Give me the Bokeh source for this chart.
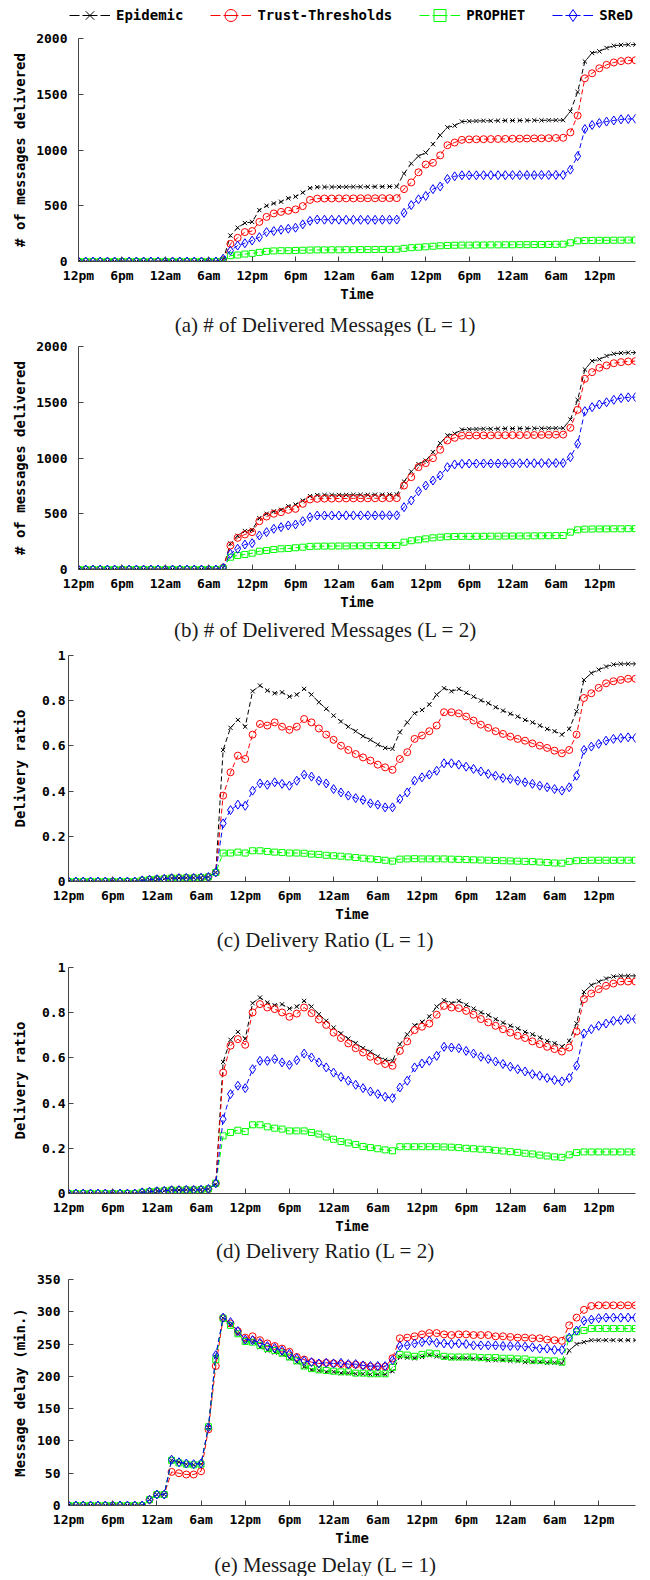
from bokeh.plotting import figure
from bokeh.models import Range1d, FixedTicker, Legend, LegendItem, Label, ColumnDataSource
from bokeh.embed import file_html
from bokeh.resources import INLINE

# ---------------- data ----------------
hours = list(range(0, 78))
tick_hours = [0, 6, 12, 18, 24, 30, 36, 42, 48, 54, 60, 66, 72]
tick_labels = ["12pm", "6pm", "12am", "6am", "12pm", "6pm", "12am", "6am",
               "12pm", "6pm", "12am", "6am", "12pm"]
series_names = ["Epidemic", "Trust-Thresholds", "PROPHET", "SReD"]

# (a)/(b) number of delivered messages
epidemic_count = [0, 0, 0, 0, 0, 0, 0, 0, 0, 0, 0, 0, 0, 0, 0, 0, 0, 0, 0, 0,
                  15,
                  233, 303, 345, 355, 461, 500, 521, 536, 567, 582, 618, 658, 667,
                  668, 668, 669, 669, 670, 670, 670, 671, 671, 672, 672,
                  788, 879, 945, 976, 1052, 1133, 1203, 1218, 1255,
                  1258, 1260, 1262, 1262, 1263, 1264, 1264, 1265, 1265, 1266, 1266, 1267, 1267, 1268,
                  1345, 1521, 1794, 1870, 1885, 1915, 1935, 1942, 1945, 1945]
trust_count_L1 = [0, 0, 0, 0, 0, 0, 0, 0, 0, 0, 0, 0, 0, 0, 0, 0, 0, 0, 0, 0,
                  12,
                  158, 212, 264, 273, 355, 400, 431, 445, 455, 467, 497, 552, 564,
                  565, 565, 566, 566, 566, 567, 567, 567, 568, 568, 568,
                  649, 709, 800, 870, 885, 952, 1043, 1067, 1091,
                  1095, 1096, 1097, 1098, 1099, 1100, 1101, 1102, 1103, 1104, 1105, 1106, 1108, 1110,
                  1158, 1309, 1643, 1688, 1733, 1764, 1785, 1797, 1803, 1805]
prophet_count_L1 = [0, 0, 0, 0, 0, 0, 0, 0, 0, 0, 0, 0, 0, 0, 0, 0, 0, 0, 0, 0,
                    8,
                    52, 58, 67, 73, 82, 91, 95, 97, 97, 99, 101, 103, 104,
                    104, 105, 105, 106, 106, 107, 107, 108, 108, 109, 110,
                    118, 124, 128, 132, 137, 141, 144, 146, 147,
                    147, 148, 148, 149, 149, 150, 150, 151, 151, 152, 152, 153, 154, 155,
                    168, 185, 188, 189, 190, 190, 191, 191, 192, 192]
sred_count_L1 = [0, 0, 0, 0, 0, 0, 0, 0, 0, 0, 0, 0, 0, 0, 0, 0, 0, 0, 0, 0,
                 25,
                 97, 143, 164, 188, 218, 264, 273, 285, 294, 303, 333, 364, 376,
                 375, 375, 375, 374, 374, 374, 374, 374, 375, 375, 376,
                 436, 506, 558, 588, 649, 673, 740, 764, 773,
                 773, 773, 774, 774, 774, 774, 775, 775, 775, 775, 776, 776, 776, 776,
                 824, 945, 1188, 1224, 1242, 1255, 1265, 1275, 1278, 1280]
trust_count_L2 = [0, 0, 0, 0, 0, 0, 0, 0, 0, 0, 0, 0, 0, 0, 0, 0, 0, 0, 0, 0,
                  15,
                  215, 284, 314, 335, 433, 475, 500, 514, 535, 544, 589, 628, 634,
                  636, 636, 637, 637, 638, 638, 638, 639, 639, 640, 640,
                  753, 828, 918, 954, 998, 1074, 1157, 1181, 1200,
                  1202, 1202, 1203, 1203, 1204, 1204, 1205, 1205, 1206, 1206, 1207, 1208, 1209, 1210,
                  1271, 1432, 1710, 1770, 1809, 1830, 1850, 1860, 1866, 1869]
prophet_count_L2 = [0, 0, 0, 0, 0, 0, 0, 0, 0, 0, 0, 0, 0, 0, 0, 0, 0, 0, 0, 0,
                    10,
                    110, 126, 135, 146, 164, 170, 179, 186, 188, 195, 200, 207, 209,
                    210, 210, 211, 211, 212, 212, 213, 214, 214, 215, 216,
                    245, 258, 266, 275, 284, 290, 294, 296, 297,
                    297, 298, 298, 299, 299, 300, 300, 301, 301, 302, 302, 303, 304, 305,
                    335, 356, 362, 363, 364, 364, 365, 365, 366, 366]
sred_count_L2 = [0, 0, 0, 0, 0, 0, 0, 0, 0, 0, 0, 0, 0, 0, 0, 0, 0, 0, 0, 0,
                 15,
                 141, 186, 224, 236, 305, 335, 365, 380, 395, 404, 433, 469, 484,
                 484, 484, 484, 485, 485, 485, 485, 485, 486, 486, 486,
                 559, 619, 702, 753, 798, 843, 918, 942, 948,
                 950, 950, 951, 951, 951, 952, 952, 953, 953, 953, 954, 954, 955, 955,
                 1007, 1127, 1420, 1456, 1480, 1500, 1522, 1537, 1544, 1546]

# (c)/(d) delivery ratio
epidemic_ratio = [0, 0, 0, 0, 0, 0, 0, 0, 0, 0,
                  0.005, 0.008, 0.010, 0.012, 0.015, 0.015, 0.016, 0.016, 0.017, 0.020, 0.040,
                  0.582, 0.680, 0.715, 0.685, 0.842, 0.867, 0.845, 0.833, 0.837, 0.818, 0.827, 0.852,
                  0.827, 0.793, 0.764, 0.734, 0.708, 0.685, 0.665, 0.643, 0.627, 0.606, 0.591, 0.587,
                  0.660, 0.704, 0.744, 0.759, 0.783, 0.827, 0.855, 0.842, 0.852, 0.835, 0.818, 0.801,
                  0.789, 0.771, 0.756, 0.742, 0.730, 0.715, 0.704, 0.690, 0.675, 0.665, 0.650,
                  0.675, 0.753, 0.892, 0.922, 0.937, 0.951, 0.960, 0.963, 0.963, 0.963]
trust_ratio_L1 = [0, 0, 0, 0, 0, 0, 0, 0, 0, 0,
                  0.005, 0.008, 0.010, 0.012, 0.015, 0.015, 0.016, 0.016, 0.017, 0.020, 0.040,
                  0.380, 0.483, 0.557, 0.542, 0.650, 0.697, 0.690, 0.704, 0.685, 0.671, 0.685, 0.719,
                  0.704, 0.677, 0.650, 0.627, 0.601, 0.582, 0.564, 0.549, 0.535, 0.517, 0.505, 0.494,
                  0.542, 0.572, 0.631, 0.646, 0.665, 0.690, 0.749, 0.749, 0.744, 0.730, 0.712, 0.694,
                  0.680, 0.665, 0.653, 0.641, 0.631, 0.623, 0.611, 0.601, 0.591, 0.579, 0.567,
                  0.582, 0.650, 0.812, 0.833, 0.857, 0.877, 0.886, 0.892, 0.897, 0.897]
prophet_ratio_L1 = [0, 0, 0, 0, 0, 0, 0, 0, 0, 0,
                    0.005, 0.008, 0.010, 0.012, 0.015, 0.015, 0.016, 0.016, 0.017, 0.020, 0.040,
                    0.126, 0.126, 0.130, 0.126, 0.136, 0.136, 0.133, 0.130, 0.128, 0.126, 0.126, 0.125,
                    0.121, 0.120, 0.116, 0.114, 0.112, 0.109, 0.106, 0.103, 0.100, 0.097, 0.094, 0.090,
                    0.099, 0.100, 0.101, 0.100, 0.100, 0.100, 0.100, 0.099, 0.098, 0.097, 0.096, 0.095,
                    0.094, 0.093, 0.092, 0.091, 0.090, 0.089, 0.088, 0.086, 0.084, 0.082, 0.081,
                    0.089, 0.092, 0.093, 0.094, 0.094, 0.094, 0.094, 0.094, 0.094, 0.094]
sred_ratio_L1 = [0, 0, 0, 0, 0, 0, 0, 0, 0, 0,
                 0.005, 0.008, 0.010, 0.012, 0.015, 0.015, 0.016, 0.016, 0.017, 0.020, 0.040,
                 0.257, 0.316, 0.340, 0.335, 0.402, 0.434, 0.428, 0.439, 0.432, 0.424, 0.446, 0.473,
                 0.464, 0.446, 0.434, 0.409, 0.394, 0.380, 0.369, 0.361, 0.346, 0.340, 0.328, 0.328,
                 0.365, 0.394, 0.446, 0.461, 0.473, 0.490, 0.523, 0.523, 0.517, 0.508, 0.498, 0.487,
                 0.476, 0.468, 0.458, 0.454, 0.446, 0.439, 0.432, 0.424, 0.417, 0.409, 0.402,
                 0.417, 0.468, 0.582, 0.597, 0.609, 0.623, 0.631, 0.635, 0.638, 0.635]
trust_ratio_L2 = [0, 0, 0, 0, 0, 0, 0, 0, 0, 0,
                  0.005, 0.008, 0.010, 0.012, 0.015, 0.015, 0.016, 0.016, 0.017, 0.020, 0.045,
                  0.535, 0.654, 0.683, 0.658, 0.801, 0.838, 0.823, 0.816, 0.801, 0.782, 0.796, 0.823,
                  0.798, 0.770, 0.746, 0.712, 0.688, 0.664, 0.643, 0.624, 0.605, 0.587, 0.573, 0.565,
                  0.631, 0.673, 0.723, 0.738, 0.752, 0.791, 0.830, 0.823, 0.820, 0.808, 0.791, 0.772,
                  0.757, 0.742, 0.727, 0.712, 0.698, 0.688, 0.673, 0.661, 0.649, 0.639, 0.628,
                  0.646, 0.717, 0.860, 0.885, 0.904, 0.919, 0.929, 0.938, 0.938, 0.938]
prophet_ratio_L2 = [0, 0, 0, 0, 0, 0, 0, 0, 0, 0,
                    0.005, 0.008, 0.010, 0.012, 0.015, 0.015, 0.016, 0.016, 0.017, 0.020, 0.045,
                    0.255, 0.270, 0.280, 0.274, 0.304, 0.304, 0.295, 0.289, 0.285, 0.277, 0.277, 0.277,
                    0.270, 0.263, 0.250, 0.240, 0.230, 0.224, 0.217, 0.208, 0.203, 0.198, 0.193, 0.189,
                    0.207, 0.207, 0.207, 0.207, 0.207, 0.207, 0.206, 0.205, 0.203, 0.200, 0.198, 0.196,
                    0.194, 0.191, 0.188, 0.185, 0.182, 0.178, 0.175, 0.170, 0.166, 0.162, 0.160,
                    0.171, 0.181, 0.184, 0.184, 0.184, 0.184, 0.184, 0.184, 0.184, 0.184]
sred_ratio_L2 = [0, 0, 0, 0, 0, 0, 0, 0, 0, 0,
                 0.005, 0.008, 0.010, 0.012, 0.015, 0.015, 0.016, 0.016, 0.017, 0.020, 0.045,
                 0.329, 0.440, 0.477, 0.466, 0.550, 0.587, 0.587, 0.595, 0.580, 0.569, 0.590, 0.619,
                 0.602, 0.580, 0.558, 0.535, 0.516, 0.499, 0.481, 0.466, 0.451, 0.440, 0.428, 0.422,
                 0.469, 0.499, 0.558, 0.575, 0.587, 0.609, 0.649, 0.646, 0.643, 0.631, 0.619, 0.605,
                 0.595, 0.584, 0.573, 0.561, 0.550, 0.540, 0.528, 0.521, 0.511, 0.502, 0.496,
                 0.511, 0.565, 0.708, 0.727, 0.742, 0.752, 0.764, 0.767, 0.772, 0.772]

# (e) message delay (minutes)
epidemic_delay = [0, 0, 0, 0, 0, 0, 0, 0, 0, 0, 0, 9, 17, 17,
                  70, 67, 64, 63, 64, 121, 230, 290, 280, 266, 254, 253, 245, 240, 237, 234,
                  228, 222, 215, 210, 209, 207, 207, 205, 205, 204, 204, 203, 203, 203, 208,
                  230, 229, 228, 230, 233, 231, 229, 228, 228, 228, 227, 227, 225, 225, 225,
                  224, 224, 222, 222, 222, 221, 221, 220,
                  240, 250, 253, 256, 256, 256, 256, 256, 256, 256]
trust_delay = [0, 0, 0, 0, 0, 0, 0, 0, 0, 0, 0, 9, 17, 17,
               52, 50, 48, 48, 53, 118, 216, 290, 282, 270, 260, 262, 256, 251, 247, 243,
               238, 230, 226, 222, 220, 221, 220, 219, 218, 218, 217, 215, 215, 215, 228,
               259, 260, 262, 265, 267, 267, 265, 264, 265, 265, 264, 264, 264, 262, 262,
               261, 260, 260, 259, 259, 257, 256, 255,
               279, 291, 303, 309, 310, 310, 310, 310, 310, 310]
prophet_delay = [0, 0, 0, 0, 0, 0, 0, 0, 0, 0, 0, 9, 17, 17,
                 70, 66, 64, 63, 64, 122, 226, 290, 279, 266, 254, 253, 248, 243, 240, 236,
                 230, 224, 216, 212, 210, 209, 208, 207, 207, 205, 205, 204, 204, 204, 214,
                 234, 233, 231, 234, 236, 235, 231, 230, 230, 230, 230, 229, 229, 229, 228,
                 228, 227, 227, 225, 225, 224, 224, 222,
                 259, 269, 271, 274, 274, 274, 274, 274, 274, 274]
sred_delay = [0, 0, 0, 0, 0, 0, 0, 0, 0, 0, 0, 9, 17, 17,
              71, 67, 65, 64, 65, 121, 233, 291, 284, 270, 257, 256, 252, 247, 244, 240,
              235, 228, 224, 222, 220, 221, 220, 221, 219, 219, 217, 216, 216, 216, 225,
              247, 248, 251, 253, 255, 252, 251, 250, 251, 250, 248, 248, 248, 248, 247,
              247, 247, 246, 245, 243, 243, 241, 241,
              260, 271, 286, 288, 290, 291, 291, 291, 291, 291]

count_ticks = [0, 500, 1000, 1500, 2000]
ratio_ticks = [0, 0.2, 0.4, 0.6, 0.8, 1.0]
ratio_tick_labels = ["0", "0.2", "0.4", "0.6", "0.8", "1"]
delay_ticks = [0, 50, 100, 150, 200, 250, 300, 350]

captions = ["(a) # of Delivered Messages (L = 1)",
            "(b) # of Delivered Messages (L = 2)",
            "(c) Delivery Ratio (L = 1)",
            "(d) Delivery Ratio (L = 2)",
            "(e) Message Delay (L = 1)"]

# ---------------- style ----------------
COLORS = ["#000000", "#ff0000", "#00ff00", "#0000ff"]
MARKERS = ["x", "circle", "square", "diamond"]
MSIZES = [6, 7, 6, 9]
MONO = "DejaVu Sans Mono"
AXIS_COLOR = "#444444"
PAGE_W = 650


def blank_fig(h):
    f = figure(width=PAGE_W, height=h, x_range=Range1d(0, 1), y_range=Range1d(0, 1),
               output_backend="svg", toolbar_location=None, title_location=None,
               x_axis_location=None, y_axis_location=None, min_border=0,
               min_border_left=0, min_border_right=0, min_border_top=0, min_border_bottom=0,
               background_fill_color="white", border_fill_color="white")
    f.outline_line_color = None
    f.grid.visible = False
    return f


def caption_fig(text, h, cy):
    f = blank_fig(h)
    f.add_layout(Label(x=PAGE_W / 2, y=h - cy, x_units="screen", y_units="screen",
                       text=text, text_align="center", text_baseline="middle",
                       text_font="Liberation Serif", text_font_size="21px",
                       text_color="#1a1a1a"))
    return f


def legend_fig(h):
    f = blank_fig(h)
    items = []
    # one-point proxy renderers (outside the visible range) that only feed the legend
    proxy = ColumnDataSource(dict(h=[hours[-1]], v=[epidemic_count[-1]]))
    for name, c, m in zip(series_names, COLORS, MARKERS):
        lr = f.line("h", "v", source=proxy, line_color=c, line_width=1,
                    line_dash="10 3 15 3")
        sr = f.scatter("h", "v", source=proxy, marker=m, line_color=c,
                       fill_color=None, line_width=1)
        items.append(LegendItem(label=name, renderers=[lr, sr]))
    legend = Legend(items=items, orientation="horizontal", location=(69, 0),
                    glyph_width=41, glyph_height=h, label_height=h,
                    label_standoff=6, spacing=27, padding=0, margin=0,
                    label_text_font=MONO, label_text_font_style="bold",
                    label_text_font_size="14px", label_text_color="#000000",
                    background_fill_alpha=0, border_line_alpha=0)
    f.add_layout(legend)
    return f


def make_panel(data, ymax, yticks, ytick_labels, ylabel,
               left, top, bottom, fw, fh, ystand, ylab_stand):
    p = figure(frame_width=fw, frame_height=fh,
               x_range=Range1d(0, 77), y_range=Range1d(0, ymax),
               output_backend="svg", toolbar_location=None, title_location=None,
               min_border_left=left, min_border_right=PAGE_W - left - fw,
               min_border_top=top, min_border_bottom=bottom,
               background_fill_color="white", border_fill_color="white")
    p.outline_line_color = None
    p.xgrid.visible = False
    p.ygrid.visible = False

    for vals, c, m, s in zip(data, COLORS, MARKERS, MSIZES):
        src = ColumnDataSource(dict(h=hours, v=vals))
        p.line("h", "v", source=src, line_color=c, line_width=1, line_dash="5 3")
        p.scatter("h", "v", source=src, marker=m, size=s, line_color=c,
                  fill_color=None, line_width=1)

    xa = p.xaxis[0]
    xa.ticker = FixedTicker(ticks=tick_hours)
    xa.major_label_overrides = {h: t for h, t in zip(tick_hours, tick_labels)}
    xa.axis_label = "Time"
    xa.major_label_standoff = 6
    xa.axis_label_standoff = 0

    ya = p.yaxis[0]
    ya.ticker = FixedTicker(ticks=yticks)
    ya.major_label_overrides = {v: t for v, t in zip(yticks, ytick_labels)}
    ya.axis_label = ylabel
    ya.major_label_standoff = ystand
    ya.axis_label_standoff = ylab_stand

    for ax in (xa, ya):
        ax.major_tick_in = 5
        ax.major_tick_out = 0
        ax.minor_tick_line_color = None
        ax.axis_line_color = AXIS_COLOR
        ax.major_tick_line_color = AXIS_COLOR
        ax.major_label_text_font = MONO
        ax.major_label_text_font_style = "bold"
        ax.major_label_text_font_size = "13px"
        ax.major_label_text_color = "#000000"
        ax.axis_label_text_font = MONO
        ax.axis_label_text_font_style = "bold"
        ax.axis_label_text_font_size = "14px"
        ax.axis_label_text_color = "#000000"
    return p


leg = legend_fig(30)
pa = make_panel([epidemic_count, trust_count_L1, prophet_count_L1, sred_count_L1],
                2000, count_ticks, [str(v) for v in count_ticks],
                "# of messages delivered", 78, 8, 40, 557, 223, 11, 5)
ca = caption_fig(captions[0], 32, 20)
pb = make_panel([epidemic_count, trust_count_L2, prophet_count_L2, sred_count_L2],
                2000, count_ticks, [str(v) for v in count_ticks],
                "# of messages delivered", 78, 10, 40, 557, 223, 11, 5)
cb = caption_fig(captions[1], 32, 17)
pc = make_panel([epidemic_ratio, trust_ratio_L1, prophet_ratio_L1, sred_ratio_L1],
                1, ratio_ticks, ratio_tick_labels,
                "Delivery ratio", 68, 11, 40, 567, 226, 3, 11)
cc = caption_fig(captions[2], 30, 15)
pd_ = make_panel([epidemic_ratio, trust_ratio_L2, prophet_ratio_L2, sred_ratio_L2],
                 1, ratio_ticks, ratio_tick_labels,
                 "Delivery ratio", 68, 13, 40, 567, 226, 3, 11)
cd = caption_fig(captions[3], 30, 14)
pe = make_panel([epidemic_delay, trust_delay, prophet_delay, sred_delay],
                350, delay_ticks, [str(v) for v in delay_ticks],
                "Message delay (min.)", 68, 13, 40, 567, 226, 8, 6)
ce = caption_fig(captions[4], 28, 16)

roots = [leg, pa, ca, pb, cb, pc, cc, pd_, cd, pe, ce]
open("out.html", "w").write(file_html(roots, INLINE))
